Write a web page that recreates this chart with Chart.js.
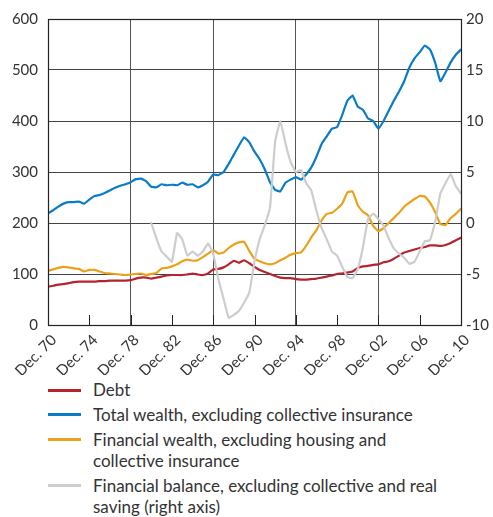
<!DOCTYPE html>
<html>
<head>
<meta charset="utf-8">
<script src="https://cdn.jsdelivr.net/npm/chart.js@4"></script>
<style>
  html, body { margin: 0; padding: 0; background: #fff; }
  #wrap { position: relative; width: 493px; height: 517px; overflow: hidden; }
  #c { position: absolute; left: 0; top: 0; }
  #legend { position: absolute; left: 0; top: 379px; width: 493px; font-family: Lato, sans-serif; font-size: 17px; color: #333; }
  .item { position: relative; padding-left: 93px; line-height: 21.3px; margin-bottom: 3.6px; white-space: nowrap; }
  .swatch { position: absolute; left: 48px; top: 9.5px; width: 33px; height: 3px; }
</style>
</head>
<body>
<div id="wrap">
  <canvas id="c" width="493" height="375"></canvas>
  <div id="legend"></div>
</div>
<script>
// ---- data (half-yearly, x = year of December observation) ----
const years = [
  1970,1970.5,1971,1971.5,1972,1972.5,1973,1973.5,1974,1974.5,
  1975,1975.5,1976,1976.5,1977,1977.5,1978,1978.5,1979,1979.5,
  1980,1980.5,1981,1981.5,1982,1982.5,1983,1983.5,1984,1984.5,
  1985,1985.5,1986,1986.5,1987,1987.5,1988,1988.5,1989,1989.5,
  1990,1990.5,1991,1991.5,1992,1992.5,1993,1993.5,1994,1994.5,
  1995,1995.5,1996,1996.5,1997,1997.5,1998,1998.5,1999,1999.5,
  2000,2000.5,2001,2001.5,2002,2002.5,2003,2003.5,2004,2004.5,
  2005,2005.5,2006,2006.5,2007,2007.5,2008,2008.5,2009,2009.5,
  2010
];
const debt = [
  75,77,79,80,82,84,85,85,85,85,
  86,86,87,87,87,87,88,91,93,93,
  91,93,95,97,98,98,98,99,101,99,
  98,101,109,110,113,119,126,122,127,121,
  114,108,104,100,96,93,92,92,90,89,
  89,90,91,93,95,97,100,101,103,105,
  112,115,116,118,119,123,125,130,136,142,
  145,148,151,153,156,156,155,157,161,166,
  171
];
const totalWealth = [
  219,225,232,238,241,241,242,238,246,253,
  255,259,264,269,273,276,280,286,287,282,
  271,270,276,274,275,274,279,275,276,270,
  274,281,295,294,300,316,334,352,368,358,
  340,325,305,280,265,262,279,285,290,285,
  295,309,330,355,370,385,388,412,440,450,
  428,422,405,400,385,400,420,440,458,478,
  505,523,535,548,540,514,478,495,515,530,
  540
];
const financialWealth = [
  106,109,112,114,113,111,110,105,108,108,
  105,102,101,100,99,98,99,100,101,98,
  100,102,111,112,115,119,125,128,126,127,
  133,140,147,140,142,151,158,162,163,145,
  130,125,121,119,121,127,132,138,141,142,
  155,172,186,205,218,220,228,238,260,262,
  235,222,215,194,184,190,200,210,220,232,
  240,247,253,252,240,221,198,196,210,218,
  228
];
const financialBalance = [
  null,null,null,null,null,null,null,null,null,null,
  null,null,null,null,null,null,null,null,null,null,
  0.0,-1.5,-2.8,-3.3,-3.8,-1.0,-1.6,-3.2,-2.8,-3.2,
  -2.8,-2.0,-3.0,-5.5,-7.4,-9.3,-9.0,-8.6,-7.8,-6.8,
  -3.8,-1.6,-0.2,1.5,8.0,10.0,7.8,6.0,5.0,5.2,
  3.9,3.2,1.2,-0.5,-1.6,-2.8,-3.2,-4.3,-5.3,-5.4,
  -4.5,-2.4,0.4,0.9,0.4,-0.3,-1.5,-2.5,-3.0,-3.4,
  -4.0,-3.8,-2.8,-1.8,-1.7,0.1,2.9,3.9,4.8,3.6,
  2.9
];
const seriesNames = [
  "Debt",
  "Total wealth, excluding collective insurance",
  "Financial wealth, excluding housing and collective insurance",
  "Financial balance, excluding collective and real saving (right axis)"
];
const legendLines = [
  ["Debt"],
  ["Total wealth, excluding collective insurance"],
  ["Financial wealth, excluding housing and", "collective insurance"],
  ["Financial balance, excluding collective and real", "saving (right axis)"]
];
const seriesColors = ["#b5232f", "#0a7cc6", "#eba21b", "#cdcdcd"];
const gridYears = [1978, 1986, 1994, 2002];

function pts(arr) { return years.map((x, i) => ({ x: x, y: arr[i] })); }

const innerTicks = {
  id: 'innerTicks',
  beforeDatasetsDraw(chart) {
    const xs = chart.scales.x, a = chart.chartArea, ctx = chart.ctx;
    ctx.save();
    ctx.strokeStyle = '#222';
    ctx.lineWidth = 1;
    xs.ticks.forEach(t => {
      const px = Math.round(xs.getPixelForValue(t.value)) + 0.5;
      ctx.beginPath();
      ctx.moveTo(px, a.bottom);
      ctx.lineTo(px, a.bottom - 10);
      ctx.stroke();
    });
    ctx.restore();
  }
};
const frame = {
  id: 'frame',
  afterDatasetsDraw(chart) {
    const a = chart.chartArea, ctx = chart.ctx;
    ctx.save();
    ctx.strokeStyle = '#222';
    ctx.lineWidth = 1.2;
    ctx.strokeRect(Math.round(a.left) + 0.5, Math.round(a.top) + 0.5, Math.round(a.right - a.left), Math.round(a.bottom - a.top));
    ctx.restore();
  }
};

const tickFont = { family: 'Lato, sans-serif', size: 15 };

new Chart(document.getElementById('c'), {
  type: 'line',
  data: {
    datasets: [
      { label: seriesNames[3], data: pts(financialBalance), yAxisID: 'y2', borderColor: seriesColors[3], borderWidth: 2.2 },
      { label: seriesNames[0], data: pts(debt), yAxisID: 'y', borderColor: seriesColors[0], borderWidth: 2.2 },
      { label: seriesNames[2], data: pts(financialWealth), yAxisID: 'y', borderColor: seriesColors[2], borderWidth: 2.2 },
      { label: seriesNames[1], data: pts(totalWealth), yAxisID: 'y', borderColor: seriesColors[1], borderWidth: 2.2 }
    ]
  },
  options: {
    responsive: false,
    animation: false,
    spanGaps: false,
    elements: { point: { radius: 0 }, line: { tension: 0.1, borderCapStyle: 'round', borderJoinStyle: 'round' } },
    layout: { padding: { top: 18, left: 0, right: 0, bottom: 0 } },
    plugins: { legend: { display: false }, tooltip: { enabled: false } },
    scales: {
      x: {
        type: 'linear', min: 1970, max: 2010,
        afterFit(s) { s.height = 375 - 325; },
        ticks: {
          stepSize: 4, autoSkip: false, maxRotation: 45, minRotation: 45, padding: 6, labelOffset: 6,
          color: '#333', font: tickFont,
          callback: v => 'Dec. ' + String(v % 100).padStart(2, '0')
        },
        grid: {
          drawTicks: false,
          color: c => (c.tick && gridYears.includes(c.tick.value)) ? '#555' : 'rgba(0,0,0,0)',
          lineWidth: 1
        },
        border: { display: false }
      },
      y: {
        position: 'left', min: 0, max: 600,
        afterFit(s) { s.width = 48; },
        ticks: { stepSize: 100, color: '#333', font: tickFont, padding: 10 },
        grid: { color: '#444', lineWidth: 1, drawTicks: false },
        border: { display: false }
      },
      y2: {
        position: 'right', min: -10, max: 20,
        afterFit(s) { s.width = 32; },
        ticks: { stepSize: 5, color: '#333', font: tickFont, padding: 5 },
        grid: { display: false, drawTicks: false },
        border: { display: false }
      }
    }
  },
  plugins: [innerTicks, frame]
});

// HTML legend built from the series definitions
const legendOrder = [0, 1, 2, 3];
const lg = document.getElementById('legend');
legendOrder.forEach(i => {
  const d = document.createElement('div');
  d.className = 'item';
  const sw = document.createElement('span');
  sw.className = 'swatch';
  sw.style.background = seriesColors[i];
  d.appendChild(sw);
  legendLines[i].forEach((ln, k) => {
    if (k > 0) d.appendChild(document.createElement('br'));
    d.appendChild(document.createTextNode(ln));
  });
  lg.appendChild(d);
});
</script>
</body>
</html>
